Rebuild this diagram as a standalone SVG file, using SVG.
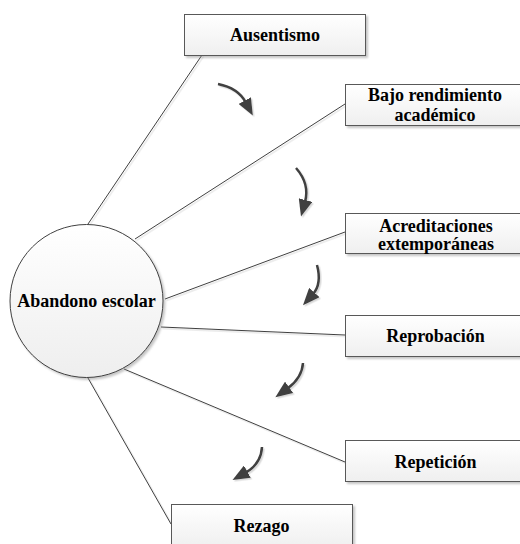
<svg xmlns="http://www.w3.org/2000/svg" width="520" height="544" viewBox="0 0 520 544">
<defs>
  <linearGradient id="gBox" x1="0" y1="0" x2="0" y2="1">
    <stop offset="0" stop-color="#ffffff"/>
    <stop offset="1" stop-color="#efefef"/>
  </linearGradient>
  <linearGradient id="gCirc" x1="0" y1="0" x2="0" y2="1">
    <stop offset="0" stop-color="#ffffff"/>
    <stop offset="1" stop-color="#eeeeee"/>
  </linearGradient>
  <filter id="sh" x="-10%" y="-10%" width="130%" height="130%">
    <feDropShadow dx="2" dy="2" stdDeviation="1" flood-color="#808080" flood-opacity="0.45"/>
  </filter>
  <filter id="shl" x="-10%" y="-10%" width="130%" height="130%">
    <feDropShadow dx="1.5" dy="1.5" stdDeviation="0.6" flood-color="#909090" flood-opacity="0.35"/>
  </filter>
  <marker id="ah" viewBox="0 0 17 14" refX="2" refY="7" markerWidth="17" markerHeight="14" markerUnits="userSpaceOnUse" orient="auto">
    <path d="M0,0 L17,7 L0,14 z" fill="#404040"/>
  </marker>
  <style>
    .box { fill: url(#gBox); stroke: #595959; stroke-width: 1; filter: url(#sh); }
    .lbl { font-family: "Liberation Serif", "Times New Roman", serif; font-weight: bold; font-size: 18px; fill: #000; text-anchor: middle; }
    .con { stroke: #404040; stroke-width: 1; fill: none; }
    .arr { stroke: #404040; stroke-width: 2.5; fill: none; marker-end: url(#ah); }
  </style>
</defs>
<rect width="520" height="544" fill="#ffffff"/>

<g id="connectors" filter="url(#shl)">
  <line class="con" x1="88" y1="224" x2="202" y2="55"/>
  <line class="con" x1="135" y1="239" x2="345" y2="104"/>
  <line class="con" x1="165" y1="299" x2="345" y2="232"/>
  <line class="con" x1="161" y1="327" x2="345" y2="335"/>
  <line class="con" x1="124" y1="369" x2="345" y2="462"/>
  <line class="con" x1="88" y1="378" x2="171" y2="524"/>
</g>

<g id="arrows" filter="url(#shl)">
  <path class="arr" d="M218,84 Q238,88 245.7,102.3"/>
  <path class="arr" d="M296,168 Q310,184 305,202"/>
  <path class="arr" d="M317,265 Q322,284 313,294"/>
  <path class="arr" d="M303,363 Q302,378 287.5,388.5"/>
  <path class="arr" d="M262,447 Q261,464 245.6,472.6"/>
</g>

<g id="n-abandono">
  <circle cx="86.5" cy="301" r="76.5" fill="url(#gCirc)" stroke="#404040" stroke-width="1" filter="url(#sh)"/>
  <text class="lbl" x="86.5" y="307">Abandono escolar</text>
</g>

<g id="n-ausentismo">
  <rect class="box" x="184.5" y="14.5" width="181" height="41"/>
  <text class="lbl" x="275" y="41">Ausentismo</text>
</g>

<g id="n-bajo">
  <rect class="box" x="345.5" y="84.5" width="181" height="41"/>
  <text class="lbl" x="435" y="100.5">Bajo rendimiento</text>
  <text class="lbl" x="435" y="120.5">académico</text>
</g>

<g id="n-acreditaciones">
  <rect class="box" x="345.5" y="213.5" width="181" height="40"/>
  <text class="lbl" x="436" y="231.5">Acreditaciones</text>
  <text class="lbl" x="436" y="250">extemporáneas</text>
</g>

<g id="n-reprobacion">
  <rect class="box" x="345.5" y="315.5" width="181" height="41"/>
  <text class="lbl" x="435.5" y="341.5">Reprobación</text>
</g>

<g id="n-repeticion">
  <rect class="box" x="345.5" y="440.5" width="181" height="41"/>
  <text class="lbl" x="435.5" y="467.5">Repetición</text>
</g>

<g id="n-rezago">
  <rect class="box" x="171.5" y="504.5" width="181" height="44"/>
  <text class="lbl" x="261.5" y="531.5">Rezago</text>
</g>
</svg>
